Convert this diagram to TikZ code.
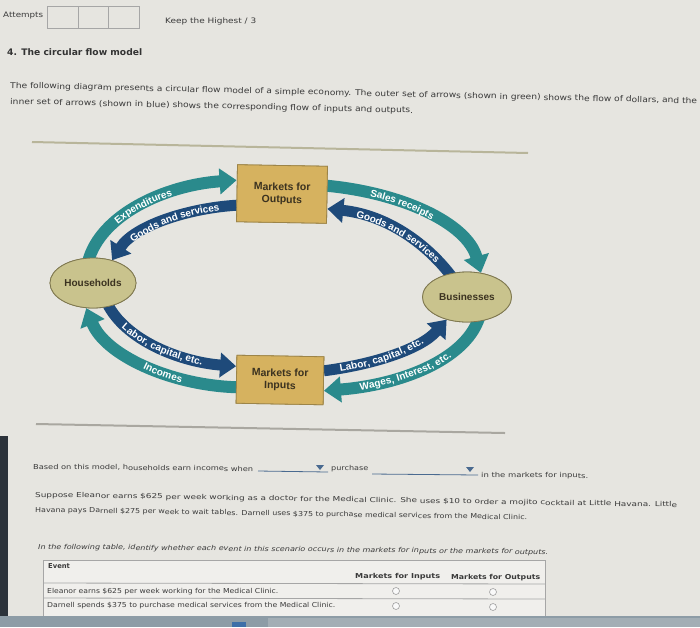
\documentclass[tikz,border=0pt]{standalone}
\usepackage{graphicx}
\usepackage{fontspec}
\setmainfont{DejaVu Sans}
\newfontfamily\arial{Liberation Sans}
\usetikzlibrary{arrows.meta,decorations.text,shapes.geometric}
\definecolor{bg}{HTML}{E6E5E0}
\definecolor{teal1}{HTML}{2A8A8C}
\definecolor{navy1}{HTML}{1E4A7A}
\definecolor{tan1}{HTML}{D6B25F}
\definecolor{tanb}{HTML}{9C8448}
\definecolor{olive1}{HTML}{C9C38D}
\definecolor{oliveb}{HTML}{7F7850}
\definecolor{ink}{HTML}{3A3A3A}
\definecolor{boxink}{HTML}{3B3220}
\definecolor{sepA}{HTML}{B8B59A}
\definecolor{sepB}{HTML}{A9A7A0}
\definecolor{ddblue}{HTML}{4A6A90}
\definecolor{barA}{HTML}{8D9CA6}
\definecolor{barB}{HTML}{A3AEB5}
\definecolor{barC}{HTML}{3E6FA8}
\definecolor{strip}{HTML}{2C333B}
\newcommand{\fw}[2]{\resizebox{#1}{\height}{#2}}
\newcommand{\lblfont}{\arial\bfseries\fontsize{10}{12}\selectfont}
\newcommand{\flowlabel}[3]{\path[decorate,decoration={text along path,text={|\lblfont|#1},text color=white,raise=-3.6pt,text align={left indent=#2}}] #3;}
\begin{document}
\begin{tikzpicture}[x=1pt,y=1pt,
  pagetxt/.style={anchor=base west, inner sep=0pt, text=ink, font=\fontsize{8}{9}\selectfont},
  smalltxt/.style={anchor=base west, inner sep=0pt, text=ink, font=\fontsize{6.8}{8}\selectfont},
  market/.style={draw=tanb, fill=tan1, line width=0.8pt, align=center, text=boxink,
     font=\arial\bfseries\fontsize{10.5}{12.5}\selectfont, inner sep=0pt},
  agent/.style={ellipse, draw=oliveb, fill=olive1, line width=0.8pt, text=boxink,
     font=\arial\bfseries\fontsize{10}{12}\selectfont, inner sep=0pt},
  flowT/.style={draw=teal1, line width=12pt, -{Triangle[width=25pt,length=17pt]}},
  flowN/.style={draw=navy1, line width=11pt, -{Triangle[width=24pt,length=16pt]}},
  radio/.style={draw=gray!75, line width=0.6pt, fill=white!95!gray}
]
\useasboundingbox (0,0) rectangle (700,-627);
\fill[bg] (0,0) rectangle (700,-627);

% header
\node[pagetxt, font=\fontsize{7.5}{9}\selectfont] (att) at (3,-17) {\fw{40pt}{Attempts}};
\draw[gray!70, line width=0.7pt] (47,-6) rectangle (139,-28);
\draw[gray!70, line width=0.7pt] (78,-6) -- (78,-28) (108,-6) -- (108,-28);
\node[pagetxt, font=\fontsize{7.5}{9}\selectfont] (keep) at (165,-23) {\fw{91pt}{Keep the Highest / 3}};
\node[pagetxt, font=\bfseries\fontsize{9}{10}\selectfont, text=black!80] (title) at (7,-55) {\fw{135pt}{4. The circular flow model}};
\node[pagetxt, rotate=-1.3] (p1) at (10,-88) {\fw{687pt}{The following diagram presents a circular flow model of a simple economy. The outer set of arrows (shown in green) shows the flow of dollars, and the}};
\node[pagetxt, rotate=-1.3] (p2) at (10,-104) {\fw{403pt}{inner set of arrows (shown in blue) shows the corresponding flow of inputs and outputs.}};

% separators
\draw[sepA, line width=2pt] (32,-142) -- (528,-153);
\draw[sepB, line width=2pt] (36,-424) -- (505,-433);

% nodes
\node[market, minimum width=90pt, minimum height=57pt, rotate=-1] (mo) at (282,-194) {Markets for\\Outputs};
\node[market, minimum width=87pt, minimum height=48pt, rotate=-1] (mi) at (280,-380) {Markets for\\Inputs};
\node[agent, minimum width=86pt, minimum height=50pt] (hh) at (93,-283) {Households};
\node[agent, minimum width=89pt, minimum height=50pt] (bs) at (467,-297) {Businesses};

% anchor coordinates
\coordinate (hhA) at ([shift={(-5,21)}]hh.center);
\coordinate (hhB) at (hh.50);
\coordinate (hhC) at ([shift={(14,-20)}]hh.center);
\coordinate (hhD) at (hh.255);
\coordinate (moW1) at ([yshift=13pt]mo.west);
\coordinate (moW2) at ([yshift=-12pt]mo.west);
\coordinate (moE1) at ([yshift=9pt]mo.east);
\coordinate (moE2) at ([yshift=-14pt]mo.east);
\coordinate (bsA) at (bs.60);
\coordinate (bsB) at ([shift={(-15,20)}]bs.center);
\coordinate (bsC) at ([shift={(12,-21)}]bs.center);
\coordinate (bsD) at (bs.228);
\coordinate (miW1) at ([yshift=13pt]mi.west);
\coordinate (miW2) at ([yshift=-8pt]mi.west);
\coordinate (miE1) at ([yshift=10pt]mi.east);
\coordinate (miE2) at ([yshift=-10pt]mi.east);

% outer (green) flows
\draw[flowT] (hhA) .. controls (100,-215) and (165,-185) .. (moW1);
\draw[flowT] (moE1) .. controls (402,-193) and (467,-223) .. (bsA);
\draw[flowT] (bsC) .. controls (465,-360) and (400,-385) .. (miE2);
\draw[flowT] (miW2) .. controls (170,-385) and (105,-355) .. (hhD);
% inner (blue) flows
\draw[flowN] (moW2) .. controls (190,-208) and (135,-225) .. (hhB);
\draw[flowN] (bsB) .. controls (428,-245) and (388,-215) .. (moE2);
\draw[flowN] (hhC) .. controls (125,-340) and (180,-362) .. (miW1);
\draw[flowN] (miE1) .. controls (370,-365) and (420,-350) .. (bsD);

% redraw nodes on top
\node[market, minimum width=90pt, minimum height=57pt, rotate=-1] at (mo.center) {Markets for\\Outputs};
\node[market, minimum width=87pt, minimum height=48pt, rotate=-1] at (mi.center) {Markets for\\Inputs};
\node[agent, minimum width=86pt, minimum height=50pt] at (hh.center) {Households};
\node[agent, minimum width=89pt, minimum height=50pt] at (bs.center) {Businesses};

% labels along flows
\flowlabel{Expenditures}{50pt}{(hhA) .. controls (100,-215) and (165,-185) .. (moW1)}
\flowlabel{Goods and services}{28pt}{(hhB) .. controls (135,-225) and (190,-208) .. (moW2)}
\flowlabel{Sales receipts}{44pt}{(moE1) .. controls (402,-193) and (467,-223) .. (bsA)}
\flowlabel{Goods and services}{30pt}{(moE2) .. controls (388,-215) and (428,-245) .. (bsB)}
\flowlabel{Labor, capital, etc.}{28pt}{(hhC) .. controls (125,-340) and (180,-362) .. (miW1)}
\flowlabel{Incomes}{83pt}{(hhD) .. controls (105,-355) and (170,-385) .. (miW2)}
\flowlabel{Labor, capital, etc.}{16pt}{(miE1) .. controls (370,-365) and (420,-350) .. (bsD)}
\flowlabel{Wages, Interest, etc.}{36pt}{(miE2) .. controls (400,-385) and (465,-360) .. (bsC)}

% left dark strip
\fill[strip] (0,-436) rectangle (8,-627);

% question text
\node[smalltxt, rotate=-0.6] (q1) at (33,-469) {\fw{220pt}{Based on this model, households earn incomes when}};
\draw[ddblue, line width=0.8pt] (258,-471) -- (328,-472);
\fill[ddblue] (316,-465) -- (324,-465) -- (320,-470) -- cycle;
\node[smalltxt, rotate=-0.6] (q2) at (331,-470) {\fw{37pt}{purchase}};
\draw[ddblue, line width=0.8pt] (372,-474) -- (478,-475);
\fill[ddblue] (466,-467) -- (474,-467) -- (470,-472) -- cycle;
\node[smalltxt, rotate=-0.6] (q3) at (481,-477) {\fw{107pt}{in the markets for inputs.}};

\node[smalltxt, rotate=-0.9] (s1) at (35,-497) {\fw{642pt}{Suppose Eleanor earns \$625 per week working as a doctor for the Medical Clinic. She uses \$10 to order a mojito cocktail at Little Havana. Little}};
\node[smalltxt, rotate=-0.9] (s2) at (35,-512) {\fw{492pt}{Havana pays Darnell \$275 per week to wait tables. Darnell uses \$375 to purchase medical services from the Medical Clinic.}};
\node[smalltxt, rotate=-0.6, font=\itshape\fontsize{6.8}{8}\selectfont] (it) at (38,-549) {\fw{510pt}{In the following table, identify whether each event in this scenario occurs in the markets for inputs or the markets for outputs.}};

% table
\draw[gray!70, line width=0.8pt, fill=white!40!bg] (43,-560) rectangle (545,-620);
\draw[gray!70, line width=0.8pt] (43,-583) -- (545,-584) (43,-598) -- (545,-599);
\node[smalltxt, font=\bfseries\fontsize{6.8}{8}\selectfont] (ev) at (48,-568) {Event};
\node[smalltxt, font=\bfseries\fontsize{6.8}{8}\selectfont] (hi) at (355,-578) {\fw{85pt}{Markets for Inputs}};
\node[smalltxt, font=\bfseries\fontsize{6.8}{8}\selectfont] (ho) at (451,-579) {\fw{89pt}{Markets for Outputs}};
\node[smalltxt] (r1) at (47,-593) {\fw{231pt}{Eleanor earns \$625 per week working for the Medical Clinic.}};
\node[smalltxt] (r2) at (47,-607) {\fw{288pt}{Darnell spends \$375 to purchase medical services from the Medical Clinic.}};
\draw[radio] (396,-591) circle (3.5);
\draw[radio] (493,-592) circle (3.5);
\draw[radio] (396,-606) circle (3.5);
\draw[radio] (493,-607) circle (3.5);

% bottom band
\fill[barA] (0,-616) rectangle (700,-627);
\fill[barB] (268,-618) rectangle (700,-627);
\fill[barC] (232,-622) rectangle (246,-627);
\end{tikzpicture}
\end{document}
